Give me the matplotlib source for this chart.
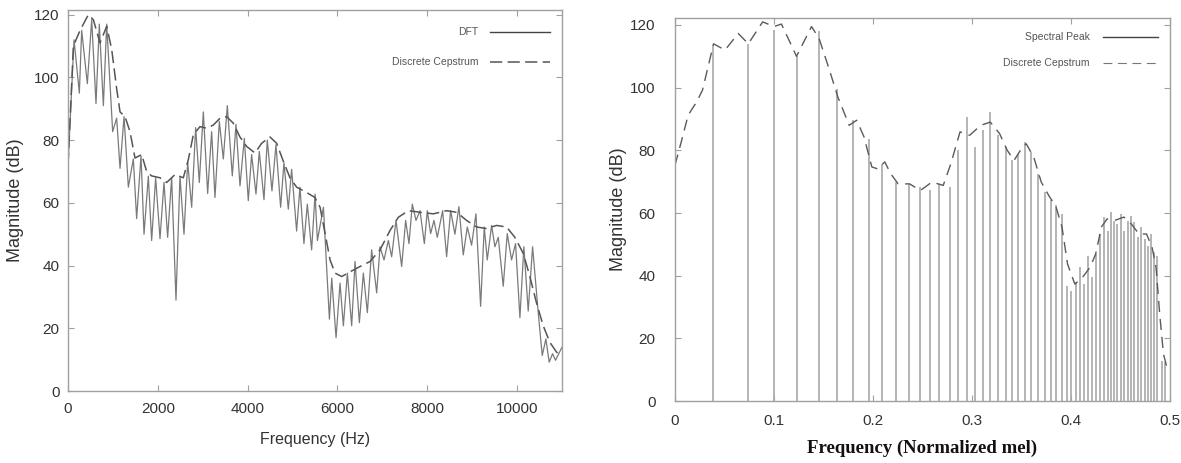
import matplotlib
matplotlib.use("Agg")
import matplotlib.pyplot as plt

# ---- left panel: DFT magnitude and discrete cepstrum envelope (Hz) ----------
dft_hz = [0, 134, 252, 304, 430, 527, 623, 697, 787, 861, 994, 1083, 1158,
          1247, 1343, 1454, 1528, 1625, 1692, 1788, 1862, 1951, 2048, 2137,
          2218, 2307, 2404, 2493, 2582, 2664, 2753, 2842, 2923, 3013, 3109,
          3198, 3272, 3369, 3458, 3547, 3658, 3740, 3829, 3925, 4014, 4088,
          4185, 4259, 4363, 4437, 4541, 4630, 4734, 4808, 4905, 4979, 5090,
          5164, 5253, 5328, 5424, 5501, 5553, 5687, 5820, 5872, 5968, 6057,
          6131, 6220, 6316, 6391, 6487, 6576, 6665, 6761, 6873, 6947, 7036,
          7132, 7206, 7303, 7429, 7518, 7592, 7666, 7748, 7837, 7934, 8000,
          8074, 8148, 8222, 8341, 8430, 8519, 8615, 8704, 8801, 8890, 8986,
          9083, 9187, 9268, 9335, 9431, 9505, 9580, 9691, 9780, 9876, 9965,
          10062, 10150, 10247, 10344, 10470, 10559, 10640, 10714, 10789,
          10855, 11000]
dft_db = [72, 112, 95, 115, 98, 118.4, 91.7, 117, 91, 117, 82.7, 87, 71,
          87.5, 65, 74, 55, 75, 50, 68.5, 48, 68, 48.6, 66.5,
          49, 68, 29, 68.5, 50, 73, 58.6, 84, 66.5, 89, 63,
          82.7, 61.7, 86, 74, 91, 68.6, 85, 65.4, 80.6, 60.7, 75.4,
          62.8, 76.4, 61, 80, 63.8, 78.5, 58.6, 72.8, 58, 70.7, 51,
          65, 47, 59.6, 45, 62.8, 48, 58.6, 22.9, 36, 17, 34.4,
          20.8, 37.6, 20.8, 41.3, 21.8, 37.6, 25, 45, 31.3, 46, 41.8,
          48, 42.8, 54.4, 39.7, 54.4, 47, 59.6, 54.4, 57.5, 47, 57.5,
          50.2, 54.4, 49, 57.5, 42.8, 57.5, 50, 58.8, 43.4, 52.3, 46.5,
          56.5, 27, 52.3, 41.8, 52.8, 46, 49, 33.4, 50.2, 41.8, 47,
          23.4, 46, 25.5, 46, 25, 11.3, 16.6, 9.2, 11.9,
          9.8, 14]

cep_hz = [0, 119, 267, 453, 564, 712, 861, 972, 1083, 1158, 1269, 1380, 1491,
          1640, 1751, 1862, 2048, 2196, 2382, 2567, 2679, 2790, 2938, 3087,
          3235, 3384, 3532, 3680, 3829, 3977, 4163, 4311, 4497, 4645, 4793,
          4942, 5090, 5313, 5498, 5612, 5724, 5835, 5946, 6094, 6279, 6502,
          6725, 6947, 7170, 7355, 7577, 7837, 8134, 8430, 8652, 8875, 9098,
          9320, 9542, 9765, 9950, 10136, 10284, 10433, 10581, 10730, 10878,
          11000]
cep_db = [72, 110, 115, 120, 118.4, 111, 116.3, 109, 96.4, 89, 87.5, 82.7, 74.3,
          75.4, 70, 68.6, 68, 66.5, 69, 68, 73.8, 81.7, 84.3, 83.8,
          84.8, 87, 87.5, 85.4, 81, 78, 75.9, 79, 81, 79, 73.3,
          68, 65, 63.3, 61.7, 58.6, 50.2, 41.8, 37.6, 36.5, 38, 39.7,
          41.3, 45, 51.2, 55.4, 57.5, 57, 56.5, 57.5, 57, 54.4, 52.3,
          51.8, 52.8, 52.3, 49, 43.9, 36.5, 28, 20.8, 15.5, 12.4,
          11.3]

# ---- right panel: spectral peaks and cepstrum on normalized mel axis --------
peak_mel = [0.0384, 0.0741, 0.100, 0.123, 0.1456, 0.164, 0.180, 0.196, 0.2095,
            0.2236, 0.236, 0.2475, 0.258, 0.267, 0.278, 0.286, 0.295, 0.303,
            0.311, 0.3186, 0.326, 0.334, 0.340, 0.347, 0.354, 0.360, 0.367,
            0.374, 0.380, 0.385, 0.391, 0.396, 0.400, 0.405, 0.409, 0.413,
            0.4175, 0.4217, 0.4255, 0.429, 0.433, 0.437, 0.440, 0.4437, 0.447,
            0.4506, 0.454, 0.4574, 0.4608, 0.464, 0.4677, 0.471, 0.4745, 0.478,
            0.481, 0.484, 0.487, 0.4916, 0.4947]
peak_db = [113.6, 114, 118.4, 110, 118, 99.7, 89.6, 83.7, 75.7,
           69.9, 69.3, 68.3, 67.2, 69.3, 68.3, 80, 90.7, 81,
           86.4, 92.3, 84.8, 81, 76.8, 78.9, 82.7, 79.5, 72.5,
           66.7, 64, 62.4, 59.7, 36.8, 35.2, 37.9, 42.7, 37.3,
           46.4, 39.5, 46.9, 53.3, 58.7, 54.4, 60.3, 57.6, 56.5,
           59.7, 54.4, 57.6, 59.2, 57, 52.3, 55.5, 51.7, 49.6,
           53.3, 47.5, 46.4, 12.8, 12.3]

mel_cep_x = [0, 0.0068, 0.0133, 0.022, 0.0278, 0.0335, 0.039, 0.0506, 0.0639,
             0.0741, 0.0886, 0.100, 0.1076, 0.1228, 0.138, 0.1456, 0.155,
             0.1646, 0.176, 0.1836, 0.191, 0.1989, 0.2046, 0.212, 0.218,
             0.2255, 0.237, 0.248, 0.2597, 0.271, 0.2787, 0.288, 0.2977, 0.309,
             0.3186, 0.328, 0.3357, 0.3426, 0.349, 0.3548, 0.3624, 0.370,
             0.3776, 0.385, 0.391, 0.3966, 0.404, 0.4118, 0.4194, 0.425,
             0.4308, 0.4365, 0.444, 0.4536, 0.461, 0.4688, 0.4764, 0.482,
             0.486, 0.4897, 0.4935, 0.497]
mel_cep_db = [75.2, 83.2, 91.2, 95.5, 99.2, 106.7, 114, 112, 117.3,
              114, 121, 119.5, 120.3, 110, 119.5, 115.7, 106.7,
              97, 88, 89.6, 84.3, 74.7, 74.1, 76.3, 72.5,
              69.3, 69.3, 67.2, 69.9, 68.8, 75.7, 85.9, 84.8, 88,
              89, 85.3, 80, 76.8, 80, 82.1, 77.9, 69.9,
              65.6, 61.9, 55.5, 43.7, 37.3, 39.5, 42.7, 46.9,
              55.5, 58.1, 57.6, 58.7, 56.5, 53.3, 53.3, 49,
              42.7, 27.7, 15, 10.7]

plt.rcParams["font.family"] = ["Liberation Sans", "DejaVu Sans"]
TXT = "#333333"
FRAME = "#a0a0a0"

fig = plt.figure(figsize=(11.81, 4.63), dpi=100)
ax1 = fig.add_axes([0.0576, 0.1555, 0.4183, 0.8229])
ax2 = fig.add_axes([0.5715, 0.1339, 0.4191, 0.8270])


def style(ax, xpad, ypad):
    for s in ax.spines.values():
        s.set_color(FRAME)
        s.set_linewidth(1.0)
    ax.tick_params(direction="in", length=4, width=0.8, color=FRAME,
                   top=True, right=True, labelsize=11, labelcolor=TXT)
    ax.tick_params(axis="x", pad=xpad)
    ax.tick_params(axis="y", pad=ypad)


def legend_row(ax, y, label, x_text, x0, x1, **kw):
    ax.text(x_text, y, label, transform=ax.transAxes, ha="right", va="center",
            fontsize=7.5, color="#555555")
    ax.plot([x0, x1], [y, y], transform=ax.transAxes, **kw)


# left
ax1.plot(dft_hz, dft_db, color="#7a7a7a", lw=0.9)
ax1.plot(cep_hz, cep_db, color="#555555", lw=1.1, dashes=(8, 3.5))
ax1.set_xlim(0, 11000)
ax1.set_ylim(0, 121.5)
ax1.set_xticks([0, 2000, 4000, 6000, 8000, 10000])
ax1.set_yticks(range(0, 121, 20))
style(ax1, 8, 6)
ax1.set_xlabel("Frequency (Hz)", fontsize=11.5, color=TXT)
ax1.set_ylabel("Magnitude (dB)", fontsize=13, color=TXT)
ax1.xaxis.set_label_coords(0.5, -0.108)
ax1.yaxis.set_label_coords(-0.089, 0.5)
legend_row(ax1, 0.942, "DFT", 0.830, 0.854, 0.976, color="#444444", lw=1.0)
legend_row(ax1, 0.8635, "Discrete Cepstrum", 0.830, 0.854, 0.976,
           color="#555555", lw=1.1, dashes=(8, 3.5))

# right
ax2.vlines(peak_mel, 0, peak_db, color="#a8a8a8", lw=1.2)
ax2.plot(mel_cep_x, mel_cep_db, color="#5a5a5a", lw=1.0, dashes=(8, 5))
ax2.set_xlim(0, 0.5)
ax2.set_ylim(0, 122.2)
ax2.set_xticks([0, 0.1, 0.2, 0.3, 0.4, 0.5])
ax2.set_xticklabels(["0", "0.1", "0.2", "0.3", "0.4", "0.5"])
ax2.set_yticks(range(0, 121, 20))
style(ax2, 9, 14)
ax2.set_xlabel("Frequency (Normalized mel)", fontsize=13.5, fontweight="bold",
               family=["Liberation Serif", "DejaVu Serif"], color="#111111")
ax2.set_ylabel("Magnitude (dB)", fontsize=13, color=TXT)
ax2.xaxis.set_label_coords(0.5, -0.102)
ax2.yaxis.set_label_coords(-0.097, 0.5)
legend_row(ax2, 0.950, "Spectral Peak", 0.838, 0.865, 0.976,
           color="#444444", lw=1.0)
legend_row(ax2, 0.8825, "Discrete Cepstrum", 0.838, 0.865, 0.976,
           color="#777777", lw=0.8, dashes=(8, 5))

fig.savefig("out.png", dpi=100)
